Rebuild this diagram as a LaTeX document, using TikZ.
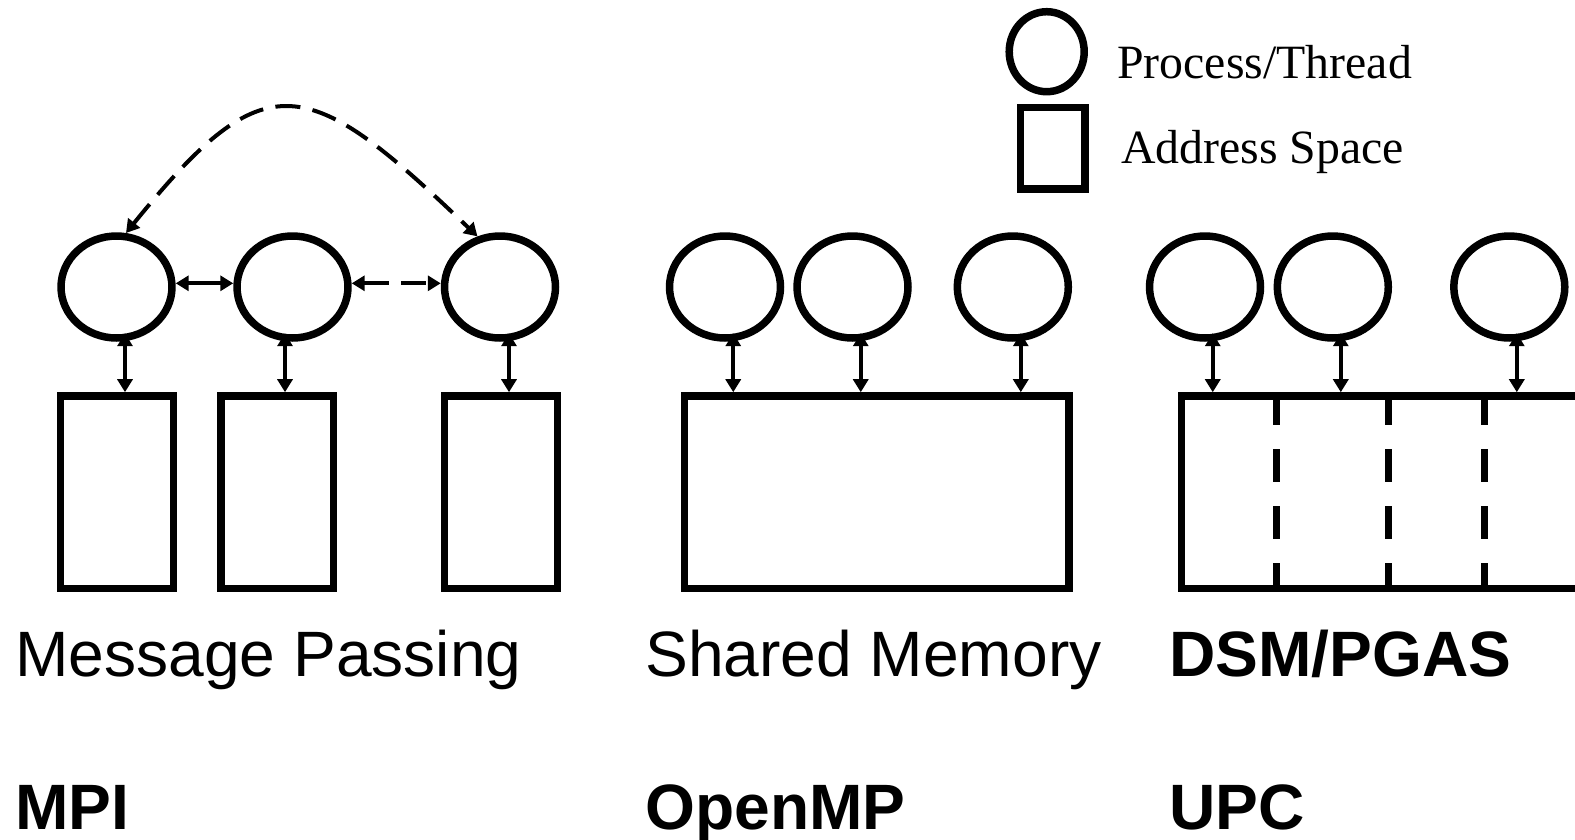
\documentclass[tikz,border=0pt]{standalone}
\usepackage{fontspec}
\setmainfont{Liberation Serif}
\setsansfont{Liberation Sans}
\usepackage{tikz}
\usetikzlibrary{
    arrows.meta,
    positioning,
    shapes.geometric,
    calc
}
\tikzstyle{proc} = [draw, ellipse, line width=0.15cm, inner sep=0pt, minimum width=2.22cm, minimum height=2.04cm]
\tikzstyle{space} = [draw, rectangle, line width=0.15cm, inner sep=0pt, minimum height=3.85cm]
\tikzstyle{link} = [line width=0.08cm, {Triangle[length=0.26cm,width=0.3cm]}-{Triangle[length=0.26cm,width=0.3cm]}]
\tikzstyle{dashy} = [dash pattern=on 0.5cm off 0.25cm]
\tikzstyle{divider} = [line width=0.14cm, dash pattern=on 0.66cm off 0.48cm]
\tikzstyle{modelname} = [anchor=base west, inner sep=0pt, font=\sffamily\fontsize{36.5}{40}\selectfont]
\tikzstyle{langname} = [anchor=base west, inner sep=0pt, font=\sffamily\bfseries\fontsize{36.5}{40}\selectfont]
\tikzstyle{legendtext} = [anchor=base west, inner sep=0pt, font=\fontsize{27.2}{30}\selectfont]

\begin{document}
\begin{tikzpicture}[x=0.02cm,y=-0.02cm]
\useasboundingbox (0,0) rectangle (1575,839);
% legend
\node[proc, minimum width=1.5cm, minimum height=1.6cm] (legproc) at (1046.7,51.7) {};
\node[space, minimum width=1.29cm, minimum height=1.63cm] (legspace) at (1052.5,148.4) {};
\node[legendtext] (legproctext) at (1117,78) {Process/Thread};
\node[legendtext] (legspacetext) at (1121,163) {Address Space};
% message passing
\node[proc] (p1) at (116.5,287) {};
\node[proc] (p2) at (292.5,287) {};
\node[proc] (p3) at (500,287) {};
\node[space, minimum width=2.254cm] (r1) at (117,492.2) {};
\node[space, minimum width=2.254cm] (r2) at (277.3,492.2) {};
\node[space, minimum width=2.254cm] (r3) at (501,492.2) {};
\draw[link] ([yshift=0.074cm]p1.east) -- ([yshift=0.074cm]p2.west);
\draw[link, dashy] ([yshift=0.074cm]p2.east) -- ([yshift=0.074cm]p3.west);
\draw[link, dashy] (p1.80) .. controls (266.1,60.1) and (306.2,72.3) .. (p3.114);
\draw[link] ([xshift=0.17cm,yshift=0.17cm]p1.south) coordinate (a1) -- (a1 |- r1.north);
\draw[link] ([xshift=-0.15cm,yshift=0.17cm]p2.south) coordinate (a2) -- (a2 |- r2.north);
\draw[link] ([xshift=0.18cm,yshift=0.17cm]p3.south) coordinate (a3) -- (a3 |- r3.north);
% shared memory
\node[proc] (s1) at (725,287) {};
\node[proc] (s2) at (852.5,287) {};
\node[proc] (s3) at (1012.8,287) {};
\node[space, minimum width=7.69cm] (sh) at (876.9,492.2) {};
\draw[link] ([xshift=0.165cm,yshift=0.17cm]s1.south) coordinate (b1) -- (b1 |- sh.north);
\draw[link] ([xshift=0.165cm,yshift=0.17cm]s2.south) coordinate (b2) -- (b2 |- sh.north);
\draw[link] ([xshift=0.16cm,yshift=0.17cm]s3.south) coordinate (b3) -- (b3 |- sh.north);
% dsm / pgas
\node[proc] (d1) at (1205,287) {};
\node[proc] (d2) at (1332.8,287) {};
\node[proc] (d3) at (1509.3,287) {};
\node[space, minimum width=10cm] (dsm) at (1431.4,492.2) {};
\draw[divider] ([xshift=1.98cm]dsm.north west) -- ([xshift=1.98cm]dsm.south west);
\draw[divider] ([xshift=4.22cm]dsm.north west) -- ([xshift=4.22cm]dsm.south west);
\draw[divider] ([xshift=6.146cm]dsm.north west) -- ([xshift=6.146cm]dsm.south west);
\draw[link] ([xshift=0.155cm,yshift=0.17cm]d1.south) coordinate (c1) -- (c1 |- dsm.north);
\draw[link] ([xshift=0.16cm,yshift=0.17cm]d2.south) coordinate (c2) -- (c2 |- dsm.north);
\draw[link] ([xshift=0.15cm,yshift=0.17cm]d3.south) coordinate (c3) -- (c3 |- dsm.north);
% names
\node[modelname] (mp) at (15,676) {Message Passing};
\node[modelname] (sm) at (645,676) {Shared Memory};
\node[langname] (pgas) at (1169,676) {DSM/PGAS};
\node[langname] (mpi) at (15,829) {MPI};
\node[langname] (omp) at (645,829) {OpenMP};
\node[langname] (upc) at (1169,829) {UPC};
\end{tikzpicture}
\end{document}
